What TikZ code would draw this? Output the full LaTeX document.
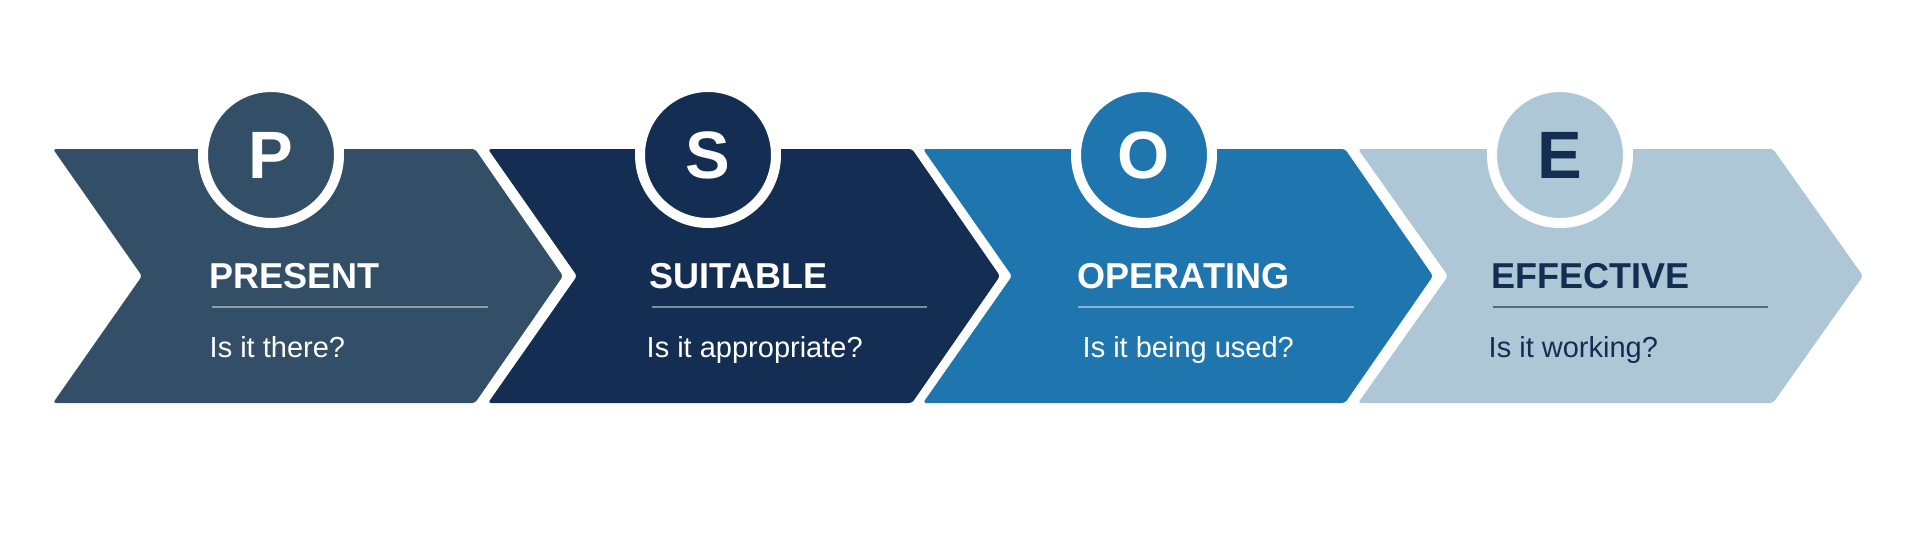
\documentclass[tikz,border=0pt]{standalone}
\usepackage{fontspec}
\setmainfont{Liberation Sans}
\usetikzlibrary{positioning}
\definecolor{slate}{HTML}{334E67}
\definecolor{navy}{HTML}{142E53}
\definecolor{ocean}{HTML}{1F76AF}
\definecolor{mist}{HTML}{AEC7D6}
\tikzstyle{chevron} = [rounded corners=3pt]
\tikzstyle{badge} = [circle, minimum size=136pt, inner sep=0pt, draw=white, line width=10pt, font=\bfseries\fontsize{67}{67}\selectfont]
\tikzstyle{heading} = [anchor=base west, inner sep=0pt, font=\bfseries\fontsize{36}{36}\selectfont]
\tikzstyle{question} = [anchor=base west, inner sep=0pt, font=\fontsize{29}{29}\selectfont]
\tikzstyle{divider} = [line width=2pt]

\begin{document}
\begin{tikzpicture}[x=1pt, y=-1pt]
\useasboundingbox (0,0) rectangle (1927,536);

\fill [chevron, slate] (53,149) -- (475,149) -- (563,276) -- (475,403) -- (53,403) -- (142,276) -- cycle;
\fill [chevron, navy] (488,149) -- (912,149) -- (1000,276) -- (912,403) -- (488,403) -- (577,276) -- cycle;
\fill [chevron, ocean] (923,149) -- (1345,149) -- (1433,276) -- (1345,403) -- (923,403) -- (1012,276) -- cycle;
\fill [chevron, mist] (1358,149) -- (1773,149) -- (1863,276) -- (1773,403) -- (1358,403) -- (1448,276) -- cycle;

\node (c1) [badge, fill=slate, text=white] at (271,155) {P};
\node (c2) [badge, fill=navy, text=white] at (708,155) {S};
\node (c3) [badge, fill=ocean, text=white] at (1144,155) {O};
\node (c4) [badge, fill=mist, text=navy] at (1560,155) {E};

\node (h1) [heading, text=white] at (209.5,288) {PRESENT};
\node (h2) [heading, text=white] at (649.5,288) {SUITABLE};
\node (h3) [heading, text=white] at (1077.5,288) {OPERATING};
\node (h4) [heading, text=navy] at (1491.5,288) {EFFECTIVE};

\node (q1) [question, text=white] at (209.5,357) {Is it there?};
\node (q2) [question, text=white] at (646.5,357) {Is it appropriate?};
\node (q3) [question, text=white] at (1082.5,357) {Is it being used?};
\node (q4) [question, text=navy] at (1488.5,357) {Is it working?};

\draw [divider, white, opacity=0.45] ([shift={(2.5,19)}]h1.base west) -- ++(276,0);
\draw [divider, white, opacity=0.45] ([shift={(2.5,19)}]h2.base west) -- ++(275,0);
\draw [divider, white, opacity=0.45] ([shift={(0.5,19)}]h3.base west) -- ++(276,0);
\draw [divider, navy, opacity=0.6] ([shift={(1.5,19)}]h4.base west) -- ++(275,0);

\end{tikzpicture}
\end{document}
